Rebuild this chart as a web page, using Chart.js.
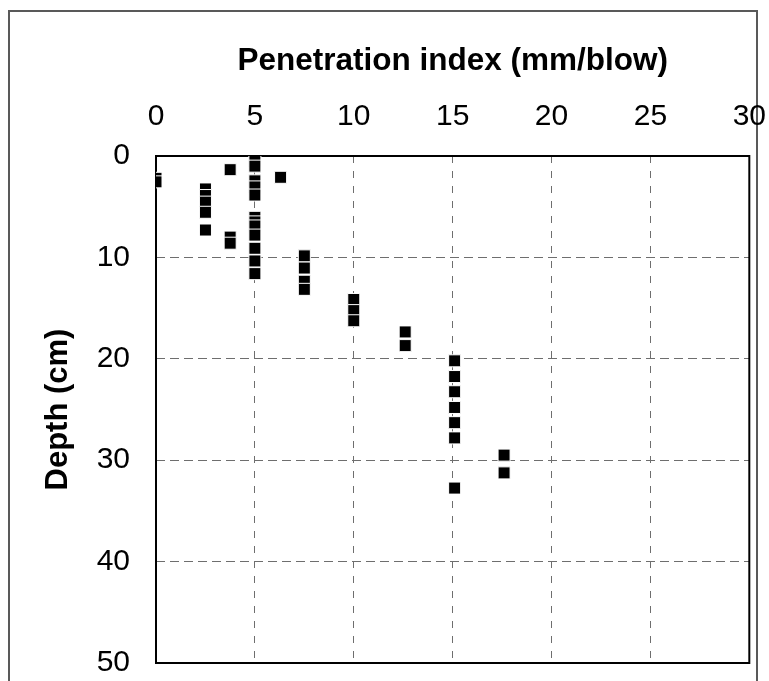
<!DOCTYPE html>
<html>
<head>
<meta charset="utf-8">
<script src="https://cdn.jsdelivr.net/npm/chart.js@4.4.0/dist/chart.umd.min.js"></script>
<style>
  html, body { margin: 0; padding: 0; background: #fff; }
  #wrap { position: relative; width: 769px; height: 681px; overflow: hidden; }
  #frame { position: absolute; left: 8px; top: 10px; width: 750px; height: 720px; border: 2px solid #595959; box-sizing: border-box; }
  canvas { position: absolute; left: 0; top: 0; }
</style>
</head>
<body>
<div id="wrap">
  <div id="frame"></div>
  <canvas id="dcp" width="787" height="707"></canvas>
</div>
<script>
// penetration index (mm/blow) and depth (cm) of each reading
const penetration = [
  0, 0,
  2.5, 2.5, 2.5, 2.5, 2.5,
  3.75, 3.75, 3.75,
  5, 5, 5, 5, 5, 5, 5, 5, 5, 5, 5, 5,
  6.3,
  7.5, 7.5, 7.5, 7.5,
  10, 10, 10,
  12.6, 12.6,
  15.1, 15.1, 15.1, 15.1, 15.1, 15.1, 15.1,
  17.6, 17.6
];
const depth = [
  2.2, 2.55,
  3.25, 3.9, 4.55, 5.55, 7.3,
  1.35, 8.0, 8.6,
  0.5, 1.0, 2.45, 3.05, 3.85, 6.05, 6.5, 6.9, 7.8, 9.1, 10.35, 11.6,
  2.1,
  9.85, 11.05, 12.35, 13.15,
  14.15, 15.25, 16.25,
  17.35, 18.7,
  20.2, 21.75, 23.25, 24.8, 26.3, 27.8, 32.75,
  29.5, 31.25
];

const xTitle = 'Penetration index (mm/blow)';
const yTitle = 'Depth (cm)';

const points = penetration.map((v, i) => ({ x: v, y: depth[i] }));

// solid black box round the plot, under the markers
const plotFrame = {
  id: 'plotFrame',
  beforeDatasetsDraw(chart) {
    const a = chart.chartArea;
    const ctx = chart.ctx;
    ctx.save();
    ctx.strokeStyle = '#000';
    ctx.lineWidth = 2;
    ctx.strokeRect(a.left, a.top, a.right - a.left, a.bottom - a.top);
    ctx.restore();
  }
};

Chart.defaults.font.family = '"Liberation Sans", Arial, sans-serif';
Chart.defaults.color = '#000';

let ctx = document.getElementById('dcp').getContext('2d');
let myChart = new Chart(ctx, {
  type: 'scatter',
  data: {
    datasets: [
      {
        label: 'DCP',
        data: points,
        pointStyle: 'rect',
        pointRadius: 8.5,
        pointHoverRadius: 8.5,
        backgroundColor: '#000',
        borderColor: '#fff',
        borderWidth: 1,
      },
    ],
  },
  options: {
    responsive: false,
    animation: false,
    layout: { padding: 0 },
    scales: {
      x: {
        type: 'linear',
        position: 'top',
        min: 0,
        max: 30,
        afterFit: (s) => { s.height = 156; },
        ticks: { stepSize: 5, padding: 21, font: { size: 30 } },
        grid: { color: '#6e6e6e', lineWidth: 1, drawTicks: false },
        border: { display: false, dash: [7, 8] },
        title: { display: true, text: xTitle, font: { size: 31.5, weight: 'bold' }, padding: { top: 42, bottom: 0 } },
      },
      y: {
        type: 'linear',
        reverse: true,
        min: 0,
        max: 50,
        afterFit: (s) => { s.width = 156; },
        ticks: { stepSize: 10, padding: 26, font: { size: 30 } },
        grid: { color: '#6e6e6e', lineWidth: 1, drawTicks: false },
        border: { display: false, dash: [9, 5] },
        title: { display: true, text: yTitle, font: { size: 31, weight: 'bold' }, padding: { top: 40, bottom: 0 } },
      },
    },
    plugins: {
      legend: { display: false },
      tooltip: { enabled: false },
    },
  },
  plugins: [plotFrame],
});
</script>
</body>
</html>
